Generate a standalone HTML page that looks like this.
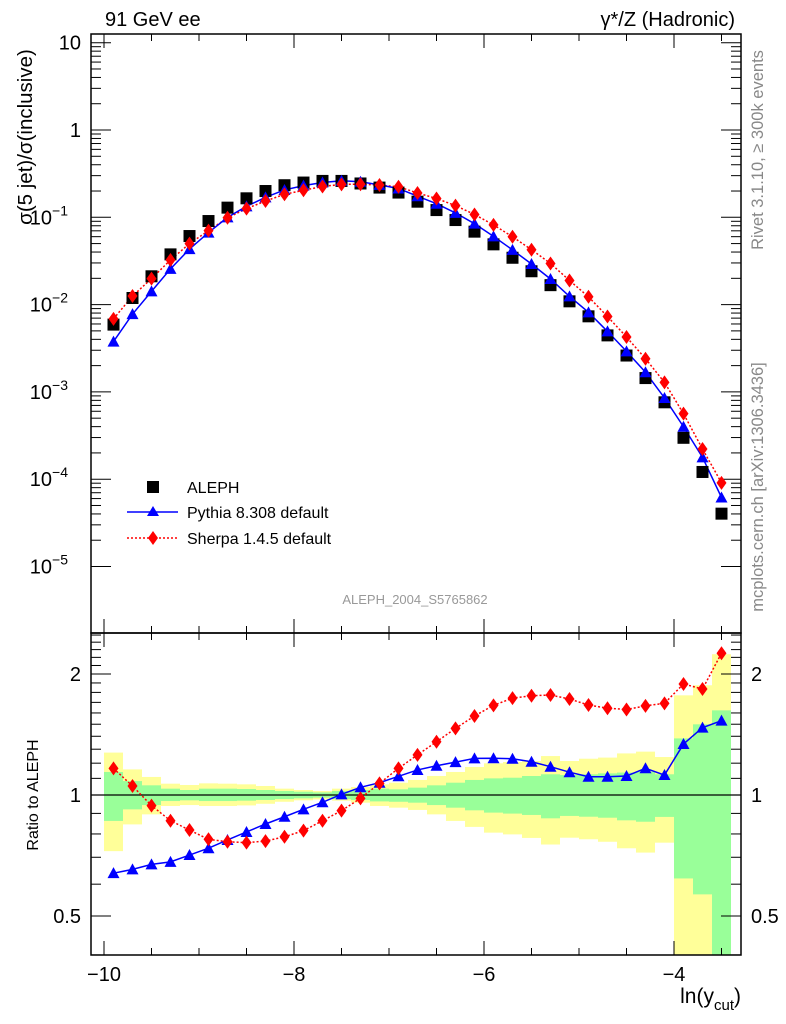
<!DOCTYPE html>
<html><head><meta charset="utf-8"><style>
body{margin:0;background:#fff;}
svg{display:block;font-family:"Liberation Sans",sans-serif;}
</style></head><body>
<svg id="chart" width="786" height="1024" viewBox="0 0 786 1024" xmlns="http://www.w3.org/2000/svg">
<g id="bands"></g>
<g id="frames"></g>
<g id="marks"></g>
<text x="105" y="26" font-size="20">91 GeV ee</text>
<text x="735" y="26" font-size="20" text-anchor="end">γ*/Z (Hadronic)</text>
<text transform="translate(763,150) rotate(-90)" font-size="16.5" fill="#888" text-anchor="middle">Rivet 3.1.10, ≥ 300k events</text>
<text transform="translate(763,487) rotate(-90)" font-size="16.5" fill="#888" text-anchor="middle">mcplots.cern.ch [arXiv:1306.3436]</text>
<text transform="translate(32,137) rotate(-90)" font-size="20.5" text-anchor="middle">σ(5 jet)/σ(inclusive)</text>
<text transform="translate(38,795) rotate(-90)" font-size="16" text-anchor="middle">Ratio to ALEPH</text>
<text x="741" y="1003" font-size="21" text-anchor="end">ln(y<tspan font-size="15" dy="7">cut</tspan><tspan dy="-7">)</tspan></text>
<text x="415" y="604" font-size="13" fill="#999" text-anchor="middle">ALEPH_2004_S5765862</text>
<g>
<rect x="147" y="481" width="12" height="12" fill="#000"/>
<text x="187" y="493" font-size="16">ALEPH</text>
<line x1="127" y1="512" x2="178" y2="512" stroke="#00f" stroke-width="1.5"/>
<polygon points="153,506 159,516 147,516" fill="#00f"/>
<text x="187" y="518" font-size="16">Pythia 8.308 default</text>
<line x1="127" y1="538" x2="178" y2="538" stroke="#f00" stroke-width="1.5" stroke-dasharray="2,2"/>
<polygon points="153,531 158,538 153,545 148,538" fill="#f00"/>
<text x="187" y="544" font-size="16">Sherpa 1.4.5 default</text>
</g>
</svg>
<script>
const xCenters=[-9.9,-9.7,-9.5,-9.3,-9.1,-8.9,-8.7,-8.5,-8.3,-8.1,-7.9,-7.7,-7.5,-7.3,-7.1,-6.9,-6.7,-6.5,-6.3,-6.1,-5.9,-5.7,-5.5,-5.3,-5.1,-4.9,-4.7,-4.5,-4.3,-4.1,-3.9,-3.7,-3.5];
const aleph=[5.9e-3,0.0119,0.0211,0.0376,0.061,0.0906,0.129,0.165,0.2,0.233,0.25,0.261,0.261,0.244,0.219,0.192,0.151,0.121,0.093,0.0685,0.049,0.0344,0.0241,0.0167,0.0109,7.34e-3,4.44e-3,2.61e-3,1.44e-3,7.6e-4,2.98e-4,1.21e-4,4.03e-5];
const pythia=[3.77e-3,7.77e-3,0.01418,0.02564,0.04325,0.0668,0.0997,0.1335,0.1694,0.2057,0.2303,0.2503,0.262,0.255,0.235,0.2137,0.1743,0.1431,0.1123,0.0845,0.0605,0.04235,0.02916,0.01964,0.01242,8.15e-3,4.93e-3,2.91e-3,1.678e-3,8.52e-4,3.99e-4,1.78e-4,6.17e-5];
const sherpa=[6.87e-3,0.01253,0.01986,0.03245,0.0499,0.0703,0.0987,0.1256,0.1536,0.1834,0.2038,0.2252,0.2386,0.2394,0.2341,0.2237,0.19,0.1642,0.1362,0.1077,0.0819,0.0599,0.04256,0.02961,0.01889,0.01229,7.3e-3,4.26e-3,2.4e-3,1.285e-3,5.63e-4,2.22e-4,9.08e-5];
const yellowUp=[1.275,1.158,1.109,1.067,1.059,1.069,1.067,1.063,1.053,1.037,1.029,1.023,1.037,1.047,1.063,1.073,1.09,1.115,1.141,1.174,1.199,1.208,1.215,1.25,1.215,1.231,1.239,1.269,1.282,1.243,1.77,1.875,2.24];
const yellowLo=[0.725,0.845,0.895,0.939,0.944,0.939,0.939,0.942,0.951,0.962,0.97,0.975,0.968,0.957,0.939,0.93,0.918,0.895,0.862,0.833,0.806,0.798,0.782,0.753,0.783,0.776,0.765,0.737,0.719,0.761,0.3,0.3,0.3];
const greenUp=[1.141,1.083,1.057,1.037,1.029,1.037,1.037,1.035,1.029,1.023,1.019,1.015,1.023,1.029,1.037,1.033,1.043,1.057,1.073,1.09,1.1,1.104,1.115,1.126,1.121,1.126,1.132,1.137,1.143,1.126,1.383,1.499,1.624];
const greenLo=[0.862,0.921,0.944,0.966,0.97,0.966,0.966,0.968,0.972,0.977,0.981,0.985,0.977,0.972,0.964,0.962,0.957,0.944,0.93,0.916,0.904,0.899,0.892,0.875,0.887,0.883,0.878,0.865,0.858,0.882,0.62,0.566,0.3];
const xTickLabels=["−10","−8","−6","−4"];
const xTickValues=[-10,-8,-6,-4];
const yDecades=[1,0,-1,-2,-3,-4,-5];
const ratioLabels=[0.5,1,2];
const binWidth=0.2;

const NS="http://www.w3.org/2000/svg";
const L=91,R=741,T=34,MB=633,RB=955;
const sx=v=>104+(v+10)*95;
const sy=v=>130-87.3*Math.log10(v);
const ry=v=>795-121*Math.log2(v);
const clampR=y=>Math.max(MB,Math.min(RB,y));
function mk(parent,tag,attrs){const e=document.createElementNS(NS,tag);for(const k in attrs)e.setAttribute(k,attrs[k]);parent.appendChild(e);return e;}
const bands=document.getElementById('bands'),frames=document.getElementById('frames'),marks=document.getElementById('marks');

for(let i=0;i<xCenters.length;i++){
  const x0=sx(xCenters[i]-binWidth/2),x1=sx(xCenters[i]+binWidth/2);
  const yt=clampR(ry(yellowUp[i])),yb=clampR(ry(yellowLo[i]));
  const r1=mk(bands,'rect',{x:x0,y:yt,width:x1-x0,height:yb-yt,fill:'#ffff99'});
  
  
  const gt=clampR(ry(greenUp[i])),gb=clampR(ry(greenLo[i]));
  const r2=mk(bands,'rect',{x:x0,y:gt,width:x1-x0,height:gb-gt,fill:'#99ff99'});
  
  
}

const f1=mk(frames,'rect',{x:L,y:T,width:R-L,height:MB-T,fill:'none',stroke:'#000','stroke-width':1.5});


const f2=mk(frames,'rect',{x:L,y:MB,width:R-L,height:RB-MB,fill:'none',stroke:'#000','stroke-width':1.5});


const one=mk(frames,'line',{x1:L,x2:R,y1:ry(1),y2:ry(1),stroke:'#000','stroke-width':1.2});


for(let v=-10;v<=-3.5;v+=0.5){
  const major=Math.abs(v-Math.round(v))<1e-6&&Math.round(v)%2===0;
  const len=major?14:7,x=sx(v);
  [[T,1],[MB,-1],[MB,1],[RB,-1]].forEach(([y,d])=>{const t=mk(frames,'line',{x1:x,x2:x,y1:y,y2:y+d*len,stroke:'#000','stroke-width':1});});
}
xTickValues.forEach((v,i)=>{const t=mk(frames,'text',{x:sx(v),y:981,'font-size':20,'text-anchor':'middle'});t.textContent=xTickLabels[i];});
yDecades.forEach(d=>{
  for(let m=1;m<10;m++){
    const y=sy(m*Math.pow(10,d));
    if(y<T||y>MB)continue;
    const len=m===1?20:10;
    [[L,1],[R,-1]].forEach(([x,s])=>{const t=mk(frames,'line',{x1:x,x2:x+s*len,y1:y,y2:y,stroke:'#000','stroke-width':1});});
  }
  const y=sy(Math.pow(10,d));
  const t=mk(frames,'text',{x:81,y:y+7,'font-size':20,'text-anchor':'end'});
  
  
  if(d===1)t.textContent='10';else if(d===0)t.textContent='1';
  else{t.setAttribute('x',68);t.textContent='10';const s=mk(t,'tspan',{dy:-9,'font-size':14});s.textContent='−'+(-d);}
});
for(let k=4;k<=25;k++){
  const v=k/10,y=ry(v);
  if(y<MB||y>RB)continue;
  const major=(k===5||k===10||k===20);
  const len=major?20:10;
  [[L,1],[R,-1]].forEach(([x,s])=>{const t=mk(frames,'line',{x1:x,x2:x+s*len,y1:y,y2:y,stroke:'#000','stroke-width':1});});
}
ratioLabels.forEach(v=>{
  const y=ry(v)+7;
  const a=mk(frames,'text',{x:81,y:y,'font-size':20,'text-anchor':'end'});a.textContent=String(v);
  
  
  const b=mk(frames,'text',{x:751,y:y,'font-size':20});b.textContent=String(v);
  
  
});

function tri(g,x,y,c){return mk(g,'polygon',{points:`${x},${y-6} ${x+6},${y+5} ${x-6},${y+5}`,fill:c});}
function dia(g,x,y,c){return mk(g,'polygon',{points:`${x},${y-7} ${x+5},${y} ${x},${y+7} ${x-5},${y}`,fill:c});}
const pyPts=xCenters.map((x,i)=>[sx(x),sy(pythia[i])]);
const shPts=xCenters.map((x,i)=>[sx(x),sy(sherpa[i])]);
const pyR=xCenters.map((x,i)=>[sx(x),ry(pythia[i]/aleph[i])]);
const shR=xCenters.map((x,i)=>[sx(x),ry(sherpa[i]/aleph[i])]);
const l1=mk(marks,'polyline',{points:shPts.map(p=>p.join(',')).join(' '),fill:'none',stroke:'#f00','stroke-width':1.5,'stroke-dasharray':'2,2'});


const l2=mk(marks,'polyline',{points:pyPts.map(p=>p.join(',')).join(' '),fill:'none',stroke:'#00f','stroke-width':1.5});


const l3=mk(marks,'polyline',{points:shR.map(p=>p.join(',')).join(' '),fill:'none',stroke:'#f00','stroke-width':1.5,'stroke-dasharray':'2,2'});


const l4=mk(marks,'polyline',{points:pyR.map(p=>p.join(',')).join(' '),fill:'none',stroke:'#00f','stroke-width':1.5});


xCenters.forEach((x,i)=>{
  const X=sx(x);
  const s=mk(marks,'rect',{x:X-6,y:sy(aleph[i])-6,width:12,height:12,fill:'#000'});
  
  
  const a=tri(marks,X,pyPts[i][1],'#00f');
  
  
  const b=dia(marks,X,shPts[i][1],'#f00');
  
  
  const c=tri(marks,X,pyR[i][1],'#00f');
  
  
  const d=dia(marks,X,shR[i][1],'#f00');
  
  
});
</script>
</body></html>
